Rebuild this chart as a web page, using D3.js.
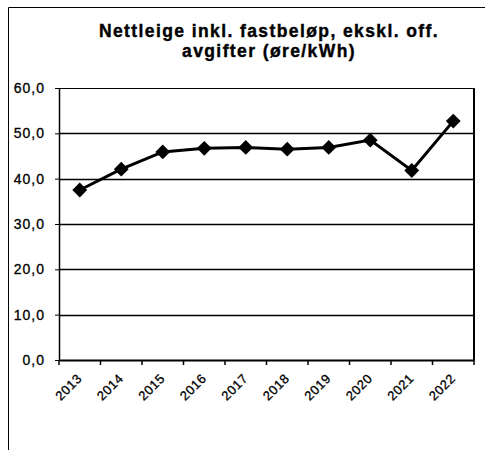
<!DOCTYPE html>
<html>
<head>
<meta charset="utf-8">
<script src="https://cdn.jsdelivr.net/npm/d3@7"></script>
<style>
  body { margin: 0; background: #fff; }
  text { font-family: "Liberation Sans", Arial, sans-serif; fill: #000; }
</style>
</head>
<body>
<div id="chart"></div>
<script>
// chart data
var years = ["2013", "2014", "2015", "2016", "2017", "2018", "2019", "2020", "2021", "2022"];
var values = [37.5, 42.1, 45.9, 46.7, 46.9, 46.5, 46.9, 48.5, 41.8, 52.7];
var yTicks = [0, 10, 20, 30, 40, 50, 60];
var titleLines = ["Nettleige inkl. fastbeløp, ekskl. off.", "avgifter (øre/kWh)"];

var svgWidth = 485, svgHeight = 450;
var margin = { top: 88, left: 59, right: 11, bottom: 90 };
var chartWidth = svgWidth - margin.left - margin.right;
var chartHeight = svgHeight - margin.top - margin.bottom;

var svg = d3.select("#chart").append("svg")
    .attr("width", svgWidth)
    .attr("height", svgHeight);

// outer frame (only top and left visible)
svg.append("path")
    .attr("d", "M8.5,450 V7.5 H485")
    .attr("fill", "none")
    .attr("stroke", "#000")
    .attr("stroke-width", 1);

// title
svg.append("g").selectAll("text")
    .data(titleLines)
    .enter()
    .append("text")
    .attr("x", 269)
    .attr("y", (d, i) => 37 + i * 20)
    .attr("text-anchor", "middle")
    .style("font-size", "17.5px")
    .style("font-weight", "bold")
    .style("letter-spacing", "1.4px")
    .attr("stroke", "#000")
    .attr("stroke-width", 0.4)
    .text(d => d);

var chartGroup = svg.append("g")
    .attr("transform", `translate(${margin.left}, ${margin.top})`);

var xScale = d3.scaleBand().domain(years).range([0, chartWidth]);
var yScale = d3.scaleLinear().domain([0, 60]).range([chartHeight, 0]);

// gridlines
chartGroup.append("g").selectAll("line")
    .data(yTicks.filter(d => d > 0))
    .enter()
    .append("line")
    .attr("x1", 0)
    .attr("x2", chartWidth)
    .attr("y1", d => Math.round(yScale(d)) + 0.5)
    .attr("y2", d => Math.round(yScale(d)) + 0.5)
    .attr("stroke", "#000")
    .attr("stroke-width", d => d === 60 ? 1 : 1.3);

// right border
chartGroup.append("line")
    .attr("x1", chartWidth).attr("x2", chartWidth)
    .attr("y1", 0).attr("y2", chartHeight)
    .attr("stroke", "#000")
    .attr("stroke-width", 2);

// y axis
var leftAxis = d3.axisLeft(yScale)
    .tickValues(yTicks)
    .tickSize(4)
    .tickSizeOuter(0)
    .tickFormat(d => d3.format(".1f")(d).replace(".", ","));

var yAxisG = chartGroup.append("g").call(leftAxis);
yAxisG.select(".domain").attr("stroke-width", 1.5);
yAxisG.selectAll("text")
    .attr("x", -14)
    .style("font-size", "14px")
    .style("letter-spacing", "1px")
    .style("font-family", "Liberation Sans, Arial, sans-serif")
    .attr("stroke", "#000")
    .attr("stroke-width", 0.3);

// x axis
var bottomAxis = d3.axisBottom(xScale).tickSize(0).tickSizeOuter(0);
var xAxisG = chartGroup.append("g")
    .attr("transform", `translate(0, ${chartHeight})`)
    .call(bottomAxis);
xAxisG.select(".domain").attr("stroke-width", 2);
xAxisG.selectAll("text")
    .style("font-size", "13px")
    .style("letter-spacing", "0.6px")
    .style("font-family", "Liberation Sans, Arial, sans-serif")
    .attr("stroke", "#000")
    .attr("stroke-width", 0.3)
    .attr("text-anchor", "end")
    .attr("dy", 0)
    .attr("transform", "translate(1, 17) rotate(-45)");

// x tick marks at band boundaries
xAxisG.append("g").selectAll("line")
    .data(years.concat(["end"]))
    .enter()
    .append("line")
    .attr("x1", (d, i) => i * xScale.bandwidth())
    .attr("x2", (d, i) => i * xScale.bandwidth())
    .attr("y1", 0)
    .attr("y2", 5)
    .attr("stroke", "#000")
    .attr("stroke-width", 1.5);

// line
var line = d3.line()
    .x((d, i) => xScale(years[i]) + xScale.bandwidth() / 2)
    .y(d => yScale(d));

chartGroup.append("path")
    .datum(values)
    .attr("d", line)
    .attr("fill", "none")
    .attr("stroke", "#000")
    .attr("stroke-width", 3);

// diamond markers
var diamond = d3.symbol().type(d3.symbolDiamond2).size(140);
chartGroup.selectAll(".marker")
    .data(values)
    .enter()
    .append("path")
    .attr("class", "marker")
    .attr("d", diamond)
    .attr("transform", (d, i) => `translate(${xScale(years[i]) + xScale.bandwidth() / 2}, ${yScale(d)})`)
    .attr("fill", "#000");
</script>
</body>
</html>
